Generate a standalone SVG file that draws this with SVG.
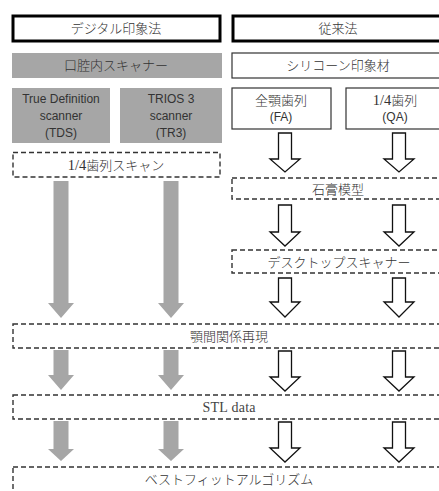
<svg xmlns="http://www.w3.org/2000/svg" width="439" height="491" viewBox="0 0 439 491">
<style>
.jp{font-family:"Noto Sans CJK JP","Noto Sans",sans-serif;font-size:13px;font-weight:300;fill:#333;text-anchor:middle}
.jps{font-family:"Noto Sans CJK JP","Noto Sans",sans-serif;font-size:13px;font-weight:300;fill:#333;text-anchor:middle}
.num{font-family:"Liberation Serif",serif;font-size:14.5px;font-weight:normal}
.en{font-family:"Liberation Sans",Arial,sans-serif;font-size:12px;fill:#333;text-anchor:middle}
.thick{fill:#fff;stroke:#000;stroke-width:3}
.gray{fill:#a6a6a6;stroke:none}
.thin{fill:#fff;stroke:#333;stroke-width:1.2}
.dash{fill:#fff;stroke:#333;stroke-width:1.4;stroke-dasharray:5 3}
.garrow{fill:#a6a6a6;stroke:none}
.warrow{fill:#fff;stroke:#111;stroke-width:1.3;stroke-linejoin:miter}
</style>
<g id="connectors">
  <path class="garrow" d="M53.5,181H68.5V303H74L61,318L48,303H53.5Z"/>
  <path class="garrow" d="M163.5,181H178.5V303H184L171,318L158,303H163.5Z"/>
  <path class="garrow" d="M53.5,350H68.5V375H74L61,390L48,375H53.5Z"/>
  <path class="garrow" d="M163.5,350H178.5V375H184L171,390L158,375H163.5Z"/>
  <path class="garrow" d="M53.5,421H68.5V449H74L61,461L48,449H53.5Z"/>
  <path class="garrow" d="M163.5,421H178.5V449H184L171,461L158,449H163.5Z"/>
  <path class="warrow" d="M278.5,133H291.5V159H300L285,172L270,159H278.5Z"/>
  <path class="warrow" d="M392.5,133H405.5V159H414L399,172L384,159H392.5Z"/>
  <path class="warrow" d="M278.5,205H291.5V232H300L285,246L270,232H278.5Z"/>
  <path class="warrow" d="M392.5,205H405.5V232H414L399,246L384,232H392.5Z"/>
  <path class="warrow" d="M278.5,278H291.5V302H300L285,317L270,302H278.5Z"/>
  <path class="warrow" d="M392.5,278H405.5V302H414L399,317L384,302H392.5Z"/>
  <path class="warrow" d="M278.5,351H291.5V377H300L285,391L270,377H278.5Z"/>
  <path class="warrow" d="M392.5,351H405.5V377H414L399,391L384,377H392.5Z"/>
  <path class="warrow" d="M278.5,422H291.5V448H300L285,462L270,448H278.5Z"/>
  <path class="warrow" d="M392.5,422H405.5V448H414L399,462L384,448H392.5Z"/>
</g>
<g id="digital">
  <rect class="thick" x="13" y="16" width="207" height="25"/>
  <text class="jp" x="116" y="33">デジタル印象法</text>
</g>
<g id="conventional">
  <rect class="thick" x="233" y="16" width="212" height="25"/>
  <text class="jp" x="338" y="33">従来法</text>
</g>
<g id="intraoral">
  <rect class="gray" x="12" y="53" width="210" height="25"/>
  <text class="jp" x="116" y="70">口腔内スキャナー</text>
</g>
<g id="silicone">
  <rect class="thin" x="232" y="53" width="212" height="25"/>
  <text class="jp" x="338" y="70">シリコーン印象材</text>
</g>
<g id="tds">
  <rect class="gray" x="12" y="88" width="98" height="55"/>
  <text class="en" x="61" y="103">True Definition</text>
  <text class="en" x="61" y="120">scanner</text>
  <text class="en" x="61" y="137">(TDS)</text>
</g>
<g id="tr3">
  <rect class="gray" x="120" y="88" width="102" height="55"/>
  <text class="en" x="171" y="103">TRIOS 3</text>
  <text class="en" x="171" y="120">scanner</text>
  <text class="en" x="171" y="137">(TR3)</text>
</g>
<g id="fa">
  <rect class="thin" x="232" y="88" width="99" height="41"/>
  <text class="jp" x="281" y="105">全顎歯列</text>
  <text class="en" x="281" y="121">(FA)</text>
</g>
<g id="qa">
  <rect class="thin" x="346" y="88" width="99" height="41"/>
  <text class="jps" x="395" y="105"><tspan class="num">1/4</tspan>歯列</text>
  <text class="en" x="395" y="121">(QA)</text>
</g>
<g id="quarter-scan">
  <rect class="dash" x="13" y="152.5" width="207" height="24.5"/>
  <text class="jps" x="116" y="170"><tspan class="num">1/4</tspan>歯列スキャン</text>
</g>
<g id="plaster">
  <rect class="dash" x="232" y="178" width="214" height="21"/>
  <text class="jp" x="338" y="194">石膏模型</text>
</g>
<g id="desktop">
  <rect class="dash" x="232" y="250" width="214" height="23"/>
  <text class="jp" x="339" y="267">デスクトップスキャナー</text>
</g>
<g id="jaw">
  <rect class="dash" x="13" y="324" width="433" height="24"/>
  <text class="jp" x="229" y="341">顎間関係再現</text>
</g>
<g id="stl">
  <rect class="dash" x="13" y="395" width="433" height="24"/>
  <text x="229" y="412" textLength="53" style="font-family:'Liberation Serif',serif;font-size:14px;fill:#444;text-anchor:middle">STL data</text>
</g>
<g id="bestfit">
  <rect class="dash" x="13" y="467" width="433" height="30"/>
  <text class="jp" x="229" y="484">ベストフィットアルゴリズム</text>
</g>
</svg>
